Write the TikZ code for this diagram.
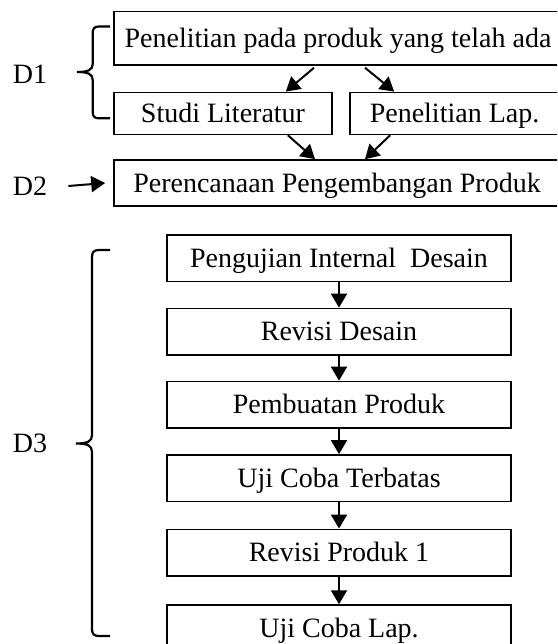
\documentclass[tikz,border=0pt]{standalone}
\usepackage{fontspec}
\setmainfont{Liberation Serif}
\usetikzlibrary{arrows.meta}
\tikzset{
  kotak/.style={draw, rectangle, line width=1.6pt, inner sep=0pt,
    font=\fontsize{28}{33}\selectfont, text height=18.5pt, text depth=0pt},
  tahap/.style={kotak, minimum width=344pt, minimum height=46.5pt},
  tanda/.style={inner sep=0pt, font=\fontsize{28}{33}\selectfont, text height=18.5pt, text depth=0pt},
  panah/.style={-{Triangle[length=14pt,width=16pt]}, line width=2pt},
  kurung/.style={line width=2.2pt}
}
\begin{document}
\begin{tikzpicture}[x=1pt,y=-1pt]
        \useasboundingbox (0,0) rectangle (557,644);
        \clip (0,0) rectangle (557,644);
        %kotak tahap D1
        \node[kotak, minimum width=448pt, minimum height=53.3pt] (awal) at (338,38.3) {Penelitian pada produk yang telah ada};
        \node[kotak, minimum width=218pt, minimum height=42pt] (studi) at (223,113.4) {Studi Literatur};
        \node[kotak, minimum width=209pt, minimum height=42pt] (lapangan) at (454.5,113.4) {Penelitian Lap.};
        %kotak tahap D2
        \node[kotak, minimum width=446pt, minimum height=46pt] (rencana) at (337,183) {Perencanaan Pengembangan Produk};
        %kotak tahap D3
        \node[tahap] (ujidesain) at (339,258.3) {Pengujian Internal\ \ Desain};
        \node[tahap] (revdesain) at (339,331.7) {Revisi Desain};
        \node[tahap] (pembuatan) at (339,404.7) {Pembuatan Produk};
        \node[tahap] (ujiterbatas) at (339,478.2) {Uji Coba Terbatas};
        \node[tahap] (revproduk) at (339,552.6) {Revisi Produk 1};
        \node[tahap] (ujilap) at (339,628.3) {Uji Coba Lap.};
        %nama tahap
        \node[tanda] (d1) at (30,74) {D1};
        \node[tanda] (d2) at (30,186) {D2};
        \node[tanda] (d3) at (30,443.5) {D3};
        %panah D1 ke D2
        \draw[panah] ([shift={(-24pt,-2pt)}]awal.south) -- ([xshift=-47pt]studi.north east);
        \draw[panah] ([shift={(27pt,-2pt)}]awal.south) -- ([xshift=45pt]lapangan.north west);
        \draw[panah] ([xshift=-45pt]studi.south east) -- ([xshift=-22pt]rencana.north);
        \draw[panah] ([xshift=41pt]lapangan.south west) -- ([xshift=28pt]rencana.north);
        \draw[panah] ([xshift=21pt]d2.east) -- ([xshift=-8pt]rencana.west);
        %panah D3
        \draw[panah] (ujidesain) -- (revdesain);
        \draw[panah] (revdesain) -- (pembuatan);
        \draw[panah] (pembuatan) -- (ujiterbatas);
        \draw[panah] (ujiterbatas) -- (revproduk);
        \draw[panah] (revproduk) -- (ujilap);
        %kurung kurawal D1
        \draw[kurung] (110,26.5) -- (99,26.5) .. controls (94.5,26.5) and (92.7,28.5) .. (92.7,33)
            -- (92.7,64) .. controls (92.7,70) and (88,72) .. (77,72)
            .. controls (88,72) and (92.7,74) .. (92.7,80)
            -- (92.7,112) .. controls (92.7,116.5) and (94.5,118.3) .. (99,118.3) -- (110,118.3);
        %kurung kurawal D3
        \draw[kurung] (110,250) -- (99,250) .. controls (94,250) and (92,252) .. (92,257)
            -- (92,435) .. controls (92,441.5) and (87.5,443.5) .. (76,443.5)
            .. controls (87.5,443.5) and (92,445.5) .. (92,452)
            -- (92,629) .. controls (92,634) and (94,636) .. (99,636) -- (110,636);
\end{tikzpicture}
\end{document}
